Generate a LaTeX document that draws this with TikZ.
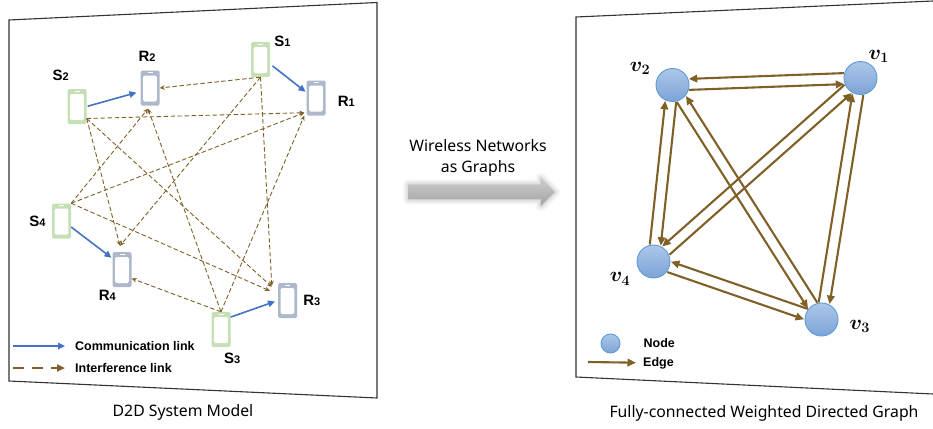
\documentclass[tikz,border=0pt]{standalone}
\usepackage{amsmath}
\usepackage{fontspec}
\setmainfont{Liberation Sans}
\newfontfamily\capfont{Noto Sans}
\usetikzlibrary{positioning, calc, arrows.meta, shapes.arrows, shadows.blur}

\definecolor{sgreen}{RGB}{197,224,180}
\definecolor{rgrey}{RGB}{173,185,202}
\definecolor{commblue}{RGB}{68,114,196}
\definecolor{linkbrown}{RGB}{127,96,38}
\definecolor{nodeborder}{RGB}{91,155,213}
\definecolor{nodetop}{RGB}{172,199,233}
\definecolor{nodebot}{RGB}{124,163,214}

\newcommand{\devlab}[2]{#1{\fontsize{11}{13}\selectfont #2}}
% two opposite edges, side given by #3 and #4 (90/-90)
\newcommand{\twoway}[4]{%
  \draw[gedge] ($(#1)!5.5pt!#3:(#2)$) -- ($(#2)!5.5pt!#4:(#1)$);
  \draw[gedge] ($(#2)!5.5pt!#3:(#1)$) -- ($(#1)!5.5pt!#4:(#2)$);
}

\begin{document}
\begin{tikzpicture}[x=1pt, y=-1pt,
    panel/.style={draw=black!80, line width=1.1pt},
    phone/.style={rectangle, rounded corners=1.5pt, minimum width=19pt,
      minimum height=35pt, inner sep=0pt, fill=#1,
      path picture={
        \fill[white] ([shift={(2.6pt,-5pt)}]path picture bounding box.north west)
          rectangle ([shift={(-2.6pt,4pt)}]path picture bounding box.south east);
        \draw[white, line width=0.9pt] ([shift={(-2.5pt,-2.2pt)}]path picture bounding box.north)
          -- ([shift={(2.5pt,-2.2pt)}]path picture bounding box.north);
      }},
    tx/.style={phone=sgreen},
    rx/.style={phone=rgrey},
    lbl/.style={font=\fontsize{15}{18}\selectfont\bfseries, inner sep=0pt},
    legtxt/.style={font=\fontsize{12.5}{15}\selectfont\bfseries, inner sep=0pt},
    capt/.style={font=\capfont\fontsize{15.8}{21}\selectfont, align=center, inner sep=0pt},
    comm/.style={draw=commblue, line width=1.6pt, -{Triangle[length=7pt,width=6.5pt]}},
    intf/.style={draw=linkbrown, line width=0.9pt, dash pattern=on 4.5pt off 2.5pt,
      -{Stealth[length=5pt,width=4.5pt]}},
    conv/.style={shape=single arrow, minimum height=146pt, inner xsep=0pt, inner ysep=7pt,
      single arrow head extend=6.5pt, top color=gray!40, bottom color=gray!72,
      blur shadow={shadow xshift=0pt, shadow yshift=0pt, shadow blur radius=6pt, shadow opacity=35}},
    vnode/.style={circle, minimum size=33pt, inner sep=0pt, draw=nodeborder, line width=0.9pt,
      top color=nodetop, bottom color=nodebot},
    vlbl/.style={font=\fontsize{22}{26}\selectfont\boldmath, inner sep=0pt},
    gedge/.style={draw=linkbrown, line width=2.1pt, -{Triangle[length=8.5pt,width=7.5pt]},
      shorten >=16.5pt, shorten <=16.5pt}]
    \useasboundingbox (0,0) rectangle (933,428);

    % panels
    \draw[panel] (9,20) -- (377,2.5) -- (377,398) -- (9,381) -- cycle;
    \draw[panel] (933,1) -- (576,17) -- (576,377) -- (933,394);

    % Define devices
    \node[tx] (s1) at (260.5,59.5) {};
    \node[tx] (s2) at (77,106.5) {};
    \node[tx] (s3) at (221,329.5) {};
    \node[tx] (s4) at (61.5,221) {};
    \node[rx] (r1) at (316,98) {};
    \node[rx] (r2) at (150,88) {};
    \node[rx] (r3) at (287.5,300.5) {};
    \node[rx] (r4) at (122,269.5) {};

    \node[lbl, right=4pt of s1.north east] {\devlab{S}{1}};
    \node[lbl, above left=8pt and 8pt of s2.north] {\devlab{S}{2}};
    \node[lbl, below right=6pt and 3pt of s3.south] {\devlab{S}{3}};
    \node[lbl, left=6pt of s4] {\devlab{S}{4}};
    \node[lbl, right=12pt of r1, yshift=-3pt] {\devlab{R}{1}};
    \node[lbl, above=9pt of r2, xshift=-3pt] {\devlab{R}{2}};
    \node[lbl, right=6pt of r3] {\devlab{R}{3}};
    \node[lbl, below left=3pt and 6pt of r4.south] {\devlab{R}{4}};

    % Communication links
    \draw[comm, shorten <=1pt, shorten >=4pt] (s2.east) -- (r2.200);
    \draw[comm, shorten <=3pt, shorten >=1pt] (s1.-25) -- (r1.150);
    \draw[comm, shorten >=1pt] (s4.-32) -- (r4.131);
    \draw[comm, shorten >=3pt] (s3.52) -- (r3.west);

    % Interference links
    \draw[intf] (s1.south) -- (r2.east);
    \draw[intf] (s1.south) -- ([xshift=-2pt,yshift=6pt]r4.north);
    \draw[intf] (s1.south) -- ([xshift=-6pt,yshift=-3pt]r3.north west);
    \draw[intf] ([yshift=-12pt]s2.east) -- ([xshift=-2pt,yshift=3pt]r1.south west);
    \draw[intf] ([yshift=-12pt]s2.east) -- ([xshift=-2pt,yshift=6pt]r4.north);
    \draw[intf] ([yshift=-12pt]s2.east) -- ([xshift=-6pt,yshift=-4pt]r3.north west);
    \draw[intf] (s4.north east) -- ([xshift=-2pt,yshift=3pt]r1.south west);
    \draw[intf] (s4.north east) -- ([xshift=-2pt,yshift=-3pt]r2.south);
    \draw[intf] (s4.north east) -- ([xshift=-8pt,yshift=-8pt]r3.north west);
    \draw[intf] (s3.north) -- ([xshift=-2pt]r1.south west);
    \draw[intf] (s3.north) -- ([xshift=-2pt,yshift=-3pt]r2.south);
    \draw[intf] (s3.north) -- ([yshift=-9pt]r4.east);

    % legend
    \node[legtxt, anchor=west] (lcomm) at (75,346) {Communication link};
    \node[legtxt, anchor=west] (lintf) at (75,368) {Interference link};
    \coordinate (lcs) at (13,346);
    \coordinate (lis) at (13,368);
    \draw[comm, shorten >=10pt] (lcs) -- (lcomm);
    \draw[intf, line width=2pt, dash pattern=on 11pt off 8pt,
      -{Triangle[length=8pt,width=7pt]}, shorten >=10pt] (lis) -- (lintf);

    % middle arrow
    \node[conv] (conv) at (478,192) {};
    \node[capt, above=8pt of conv] {Wireless Networks\\as Graphs};

    % Define graph nodes
    \node[vnode] (v1) at (860.5,78) {};
    \node[vnode] (v2) at (672.5,85) {};
    \node[vnode] (v3) at (821.5,319.5) {};
    \node[vnode] (v4) at (653.5,261.5) {};

    \node[vlbl, above right=3pt and -4pt of v1] {$v_1$};
    \node[vlbl, above left=-2pt and 10pt of v2] {$v_2$};
    \node[vlbl, right=11pt of v3, yshift=-7pt] {$v_3$};
    \node[vlbl, below left=-1pt and 11pt of v4] {$v_4$};

    % Connect nodes
    \twoway{v1}{v2}{-90}{90}
    \twoway{v1}{v3}{90}{-90}
    \twoway{v1}{v4}{-90}{90}
    \twoway{v2}{v3}{-90}{90}
    \twoway{v2}{v4}{90}{-90}
    \twoway{v3}{v4}{-90}{90}

    % legend
    \node[vnode, minimum size=19pt] (lnode) at (610.5,343.5) {};
    \node[legtxt, right=23pt of lnode] {Node};
    \node[legtxt, anchor=west] (ledge) at (643,363) {Edge};
    \coordinate (les) at (588,362);
    \draw[gedge, shorten <=0pt, shorten >=7pt] (les) -- (ledge);

    % captions
    \node[capt] at (183,412) {D2D System Model};
    \node[capt] at (764,413) {Fully-connected Weighted Directed Graph};
\end{tikzpicture}
\end{document}
